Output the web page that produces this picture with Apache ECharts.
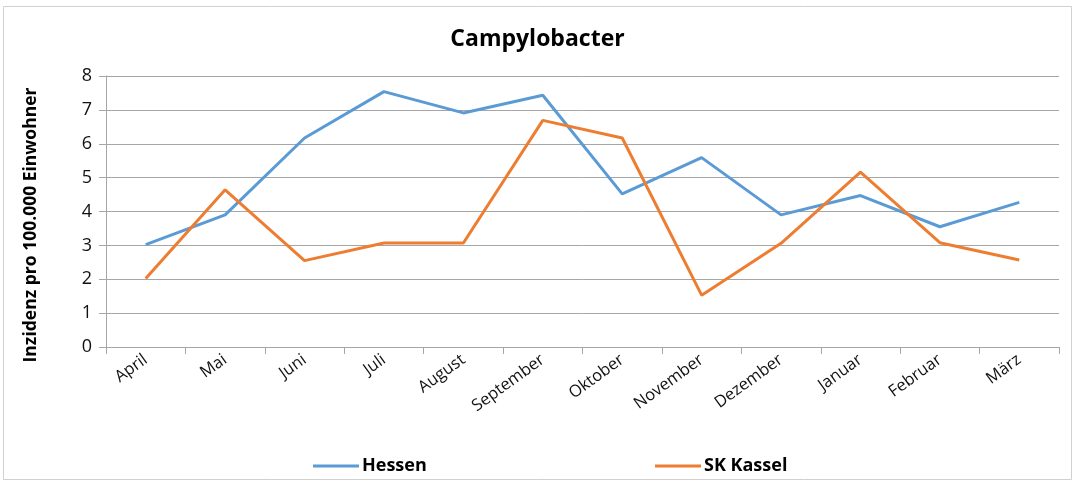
<!DOCTYPE html>
<html>
<head>
<meta charset="utf-8">
<script src="https://cdn.jsdelivr.net/npm/echarts@6/dist/echarts.min.js"></script>
<style>
  html, body { margin: 0; padding: 0; background: #fff; }
  #chart { width: 1075px; height: 482px; }
</style>
</head>
<body>
<div id="chart"></div>
<script>
const months = ['April', 'Mai', 'Juni', 'Juli', 'August', 'September', 'Oktober', 'November', 'Dezember', 'Januar', 'Februar', 'März']
const hessen = [3.02, 3.9, 6.17, 7.54, 6.91, 7.43, 4.52, 5.59, 3.9, 4.47, 3.55, 4.27]
const kassel = [2.02, 4.64, 2.55, 3.07, 3.07, 6.69, 6.17, 1.53, 3.06, 5.16, 3.08, 2.57]
const yTicks = [0, 1, 2, 3, 4, 5, 6, 7, 8]
const yTitle = 'Inzidenz pro 100.000 Einwohner'

const font = '"Open Sans", "Noto Sans", sans-serif'
const chart = echarts.init(document.getElementById('chart'))
const option = {
  backgroundColor: '#fff',
  animation: false,
  title: {
    text: 'Campylobacter',
    left: 'center',
    top: 23,
    textStyle: { fontFamily: font, fontSize: 23, fontWeight: 'bold', color: '#000' }
  },
  graphic: [
    {
      type: 'rect',
      shape: { x: 3.5, y: 6.5, width: 1068, height: 473 },
      style: { fill: 'none', stroke: '#d0d0d0', lineWidth: 1 },
      silent: true
    },
    {
      // y axis title, placed by hand to sit lower like the original
      type: 'text',
      x: 31,
      y: 225,
      rotation: Math.PI / 2,
      style: {
        text: yTitle,
        fontFamily: font,
        fontSize: 17.5,
        fontWeight: 'bold',
        fill: '#000',
        align: 'center',
        verticalAlign: 'middle'
      },
      silent: true
    }
  ],
  legend: [
    {
      data: ['Hessen'],
      left: 308,
      top: 452,
      icon: 'rect',
      itemWidth: 46,
      itemHeight: 3,
      itemGap: 0,
      textStyle: { fontFamily: font, fontSize: 18, fontWeight: 'bold', color: '#000', padding: [0, 0, 0, -2] }
    },
    {
      data: ['SK Kassel'],
      left: 650,
      top: 452,
      icon: 'rect',
      itemWidth: 46,
      itemHeight: 3,
      itemGap: 0,
      textStyle: { fontFamily: font, fontSize: 18, fontWeight: 'bold', color: '#000', padding: [0, 0, 0, -2] }
    }
  ],
  grid: { left: 106, right: 16, top: 76, bottom: 135, containLabel: false },
  xAxis: {
    type: 'category',
    data: months,
    boundaryGap: true,
    axisLine: { lineStyle: { color: '#a6a6a6', width: 1 } },
    axisTick: { show: true, length: 7, lineStyle: { color: '#a6a6a6' } },
    axisLabel: { rotate: 36, fontFamily: font, fontSize: 16.5, color: '#111', margin: 11, interval: 0 }
  },
  yAxis: {
    type: 'value',
    min: yTicks[0],
    max: yTicks[yTicks.length - 1],
    interval: 1,
    axisLine: { show: true, lineStyle: { color: '#a6a6a6' } },
    axisTick: { show: true, length: 7, lineStyle: { color: '#a6a6a6' } },
    axisLabel: { fontFamily: font, fontSize: 18, color: '#111', margin: 14 },
    splitLine: { lineStyle: { color: '#a6a6a6', width: 1 } }
  },
  series: [
    {
      name: 'Hessen',
      type: 'line',
      data: hessen,
      symbol: 'none',
      color: '#5b9bd5',
      lineStyle: { width: 3, color: '#5b9bd5' }
    },
    {
      name: 'SK Kassel',
      type: 'line',
      data: kassel,
      symbol: 'none',
      color: '#ed7d31',
      lineStyle: { width: 3, color: '#ed7d31' }
    }
  ]
}
chart.setOption(option)
</script>
</body>
</html>
